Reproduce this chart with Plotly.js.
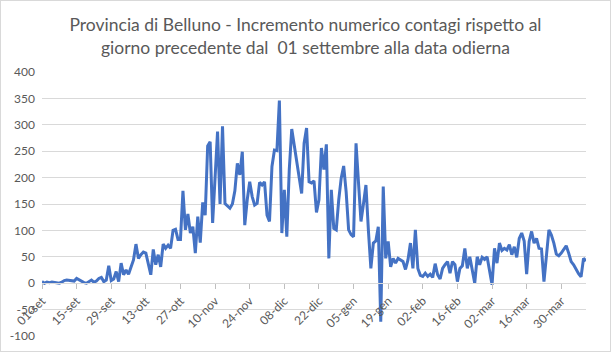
<!DOCTYPE html>
<html>
<head>
<meta charset="utf-8">
<script src="https://cdn.plot.ly/plotly-3.0.1.min.js"></script>
<style>
html, body { margin: 0; padding: 0; background: #fff; }
#wrap { width: 609px; height: 350px; border: 1px solid #D9D9D9; }
#chart { width: 609px; height: 350px; }
</style>
</head>
<body>
<div id="wrap"><div id="chart"></div></div>
<script>
// Daily increment of cases, one value per day starting 01 September
const startDate = [2020, 8, 1]; // year, month index (0-based), day
const monthNames = ["gen","feb","mar","apr","mag","giu","lug","ago","set","ott","nov","dic"];
const values = [
  3, 0, 2, 1, 2, 1, 1, 0, 2, 5,
  6, 5, 5, 4, 9, 6, 4, 1, 0, 3,
  6, 2, 4, 9, 11, 3, 6, 33, 5, 8,
  22, 3, 38, 16, 25, 17, 30, 44, 74, 47,
  54, 59, 57, 38, 16, 64, 35, 54, 31, 74,
  66, 72, 66, 100, 102, 83, 83, 175, 101, 131,
  95, 107, 57, 126, 77, 153, 129, 260, 268, 114,
  200, 287, 150, 297, 151, 146, 142, 150, 175, 227,
  205, 249, 110, 158, 192, 164, 148, 151, 191, 186,
  192, 129, 117, 221, 252, 251, 346, 95, 177, 88,
  215, 292, 260, 234, 200, 170, 265, 294, 192, 190,
  194, 134, 158, 256, 215, 263, 47, 177, 104, 101,
  158, 199, 222, 173, 101, 92, 88, 265, 190, 117,
  150, 186, 100, 28, 76, 80, 107, -73, 183, 47,
  79, 31, 47, 38, 47, 44, 41, 26, 44, 76,
  28, 101, 28, 15, 13, 19, 13, 17, 11, 37,
  16, 8, 28, 35, 41, 19, 41, 35, 3, 28,
  33, 66, 28, 50, 25, 0, 50, 35, 49, 45,
  50, 25, -3, 66, 38, 76, 62, 66, 63, 73,
  54, 69, 49, 85, 95, 80, 17, 79, 98, 76,
  85, 66, 65, 3, 55, 101, 91, 76, 55, 52,
  57, 64, 71, 57, 41, 35, 25, 18, 12, 47,
  42
];
const tickLabels = ["01-set","15-set","29-set","13-ott","27-ott","10-nov","24-nov","08-dic",
                    "22-dic","05-gen","19-gen","02-feb","16-feb","02-mar","16-mar","30-mar"];
const yTicks = [-100, -50, 0, 50, 100, 150, 200, 250, 300, 350, 400];

// build day labels (categories)
const categories = values.map((v, i) => {
  const d = new Date(startDate[0], startDate[1], startDate[2] + i);
  const dd = String(d.getDate()).padStart(2, "0");
  return dd + "-" + monthNames[d.getMonth()];
});

const FONT = "Lato, 'Open Sans', sans-serif";

const trace = {
  type: "scatter",
  mode: "lines",
  x: categories,
  y: values,
  line: { color: "#4472C4", width: 3, shape: "linear" },
  hoverinfo: "x+y"
};

const layout = {
  width: 609,
  height: 350,
  margin: { l: 41, r: 24, t: 71, b: 15 },
  paper_bgcolor: "#ffffff",
  plot_bgcolor: "#ffffff",
  showlegend: false,
  title: {
    text: "Provincia di Belluno - Incremento numerico contagi rispetto al<br>giorno precedente dal  01 settembre alla data odierna",
    font: { family: FONT, size: 17.5, color: "#595959" },
    x: 0.5, xanchor: "center",
    y: 0.914, yanchor: "middle", yref: "container"
  },
  xaxis: {
    type: "category",
    range: [0, values.length - 1],
    tickmode: "array",
    tickvals: tickLabels,
    ticktext: tickLabels,
    tickangle: -45,
    ticks: "outside",
    ticklen: 5,
    tickcolor: "#BFBFBF",
    showgrid: false,
    showline: true,
    linecolor: "#D9D9D9",
    linewidth: 1,
    zeroline: false,
    anchor: "free",
    position: 0.2,
    tickfont: { family: FONT, size: 12, color: "#595959" },
    fixedrange: true
  },
  yaxis: {
    range: [-100, 400],
    tickmode: "array",
    tickvals: yTicks,
    ticktext: yTicks.map(String),
    showgrid: true,
    gridcolor: "#D9D9D9",
    gridwidth: 1,
    zeroline: false,
    showline: false,
    ticks: "",
    ticklabelstandoff: 6,
    tickfont: { family: FONT, size: 12, color: "#595959" },
    fixedrange: true
  }
};

Plotly.newPlot("chart", [trace], layout, { displayModeBar: false, staticPlot: true });
</script>
</body>
</html>
